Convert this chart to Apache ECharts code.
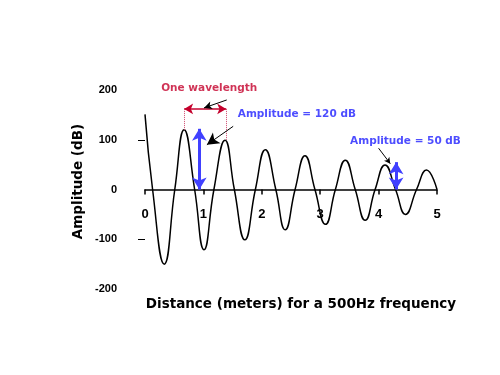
<!DOCTYPE html>
<html>
<head>
<meta charset="utf-8">
<script src="https://cdn.jsdelivr.net/npm/echarts@6/dist/echarts.min.js"></script>
<style>
html, body { margin: 0; background: #fff; }
#chart { width: 500px; height: 375px; }
</style>
</head>
<body>
<div id="chart"></div>
<script>
// wave: peaks, zero crossings, troughs
var waveX = [0, 0.13, 0.33, 0.51, 0.67, 0.85, 1.01, 1.18, 1.37, 1.53, 1.71, 1.89, 2.06, 2.24, 2.40, 2.57, 2.74, 2.91, 3.09, 3.26, 3.43, 3.60, 3.77, 3.94, 4.11, 4.29, 4.46, 4.65, 4.82, 5.0];
var waveY = [151, 0, -150, 0, 120, 0, -121, 0, 99, 0, -101, 0, 80, 0, -81, 0, 68, 0, -70, 0, 59, 0, -62, 0, 49, 0, -50, 0, 39, 0];
var xTicks = [0, 1, 2, 3, 4, 5];
var yLabels = [-200, -100, 0, 100, 200];
var yTicks = [100, -100];

// annotations (data coordinates)
var noteText = ['One wavelength', 'Amplitude = 120 dB', 'Amplitude = 50 dB'];
var noteAt = [[1.10, 204], [2.60, 152], [4.46, 97]];
var wavelengthSpan = [0.67, 1.39, 162];   // x from, x to, y
var wavelengthPeaks = [120, 100];
var ampArrows = [[0.93, 0, 122], [4.30, 0, 55]];  // x, y from, y to
var pointers = [[[1.40, 180], [1.01, 164]], [[1.51, 127], [1.06, 90]], [[4.00, 83], [4.20, 52]]];

var red = '#c4002c', blue = '#2020ff', ink = '#000';
var font = 'DejaVu Sans';

var chart = echarts.init(document.getElementById('chart'), null, { renderer: 'canvas' });

var lines = [];
lines.push([
    { coord: [wavelengthSpan[0], wavelengthSpan[2]], symbol: 'arrow', symbolSize: [8, 9] },
    { coord: [wavelengthSpan[1], wavelengthSpan[2]], symbol: 'arrow', symbolSize: [8, 9],
      lineStyle: { color: red, width: 1.5, type: 'solid' } }
]);
[0, 1].forEach(function(i) {
    lines.push([
        { coord: [wavelengthSpan[i], wavelengthSpan[2]], symbol: 'none' },
        { coord: [wavelengthSpan[i], wavelengthPeaks[i]], symbol: 'none',
          lineStyle: { color: '#d04a6e', width: 1, type: 'dotted' } }
    ]);
});
ampArrows.forEach(function(a) {
    lines.push([
        { coord: [a[0], a[1]], symbol: 'arrow', symbolSize: [11, 12] },
        { coord: [a[0], a[2]], symbol: 'arrow', symbolSize: [11, 12],
          lineStyle: { color: '#4040ff', width: 3, type: 'solid' } }
    ]);
});
pointers.forEach(function(p, i) {
    var s = i === 2 ? [5, 6] : (i === 1 ? [10, 12] : [6, 8]);
    lines.push([
        { coord: p[0], symbol: 'none' },
        { coord: p[1], symbol: 'arrow', symbolSize: s,
          lineStyle: { color: ink, width: 1, type: 'solid' } }
    ]);
});

var noteColor = [red, blue, blue];

chart.setOption({
    animation: false,
    grid: { left: 145, right: 63, top: 90, bottom: 86, outerBoundsMode: 'none', containLabel: false },
    xAxis: {
        type: 'value', min: 0, max: 5, interval: 1,
        position: 'bottom', offset: -99.5,
        name: 'Distance (meters) for a 500Hz frequency',
        nameLocation: 'middle', nameGap: 108, nameMoveOverlap: false,
        nameTextStyle: { color: ink, fontFamily: font, fontWeight: 'bold', fontSize: 13.5, padding: [0, 0, 0, 20] },
        axisLine: { onZero: false, lineStyle: { color: ink, width: 1.5 } },
        axisTick: { show: true, length: 5, lineStyle: { color: ink, width: 1.5 } },
        axisLabel: { color: ink, fontFamily: 'Liberation Sans', fontWeight: 'bold', fontSize: 13, margin: 18,
            customValues: xTicks },
        splitLine: { show: false }
    },
    yAxis: {
        type: 'value', min: -200, max: 200, interval: 100,
        name: 'Amplitude (dB)', nameLocation: 'middle', nameGap: 60, nameRotate: 90, nameMoveOverlap: false,
        nameTextStyle: { color: ink, fontFamily: font, fontWeight: 'bold', fontSize: 13.5, padding: [0, 0, 0, 16] },
        axisLine: { show: false },
        axisTick: { show: true, length: 7, customValues: yTicks, lineStyle: { color: ink, width: 1 } },
        axisLabel: { color: ink, fontFamily: 'Liberation Sans', fontWeight: 'bold', fontSize: 11, margin: 28,
            customValues: yLabels },
        splitLine: { show: false }
    },
    series: [{
        type: 'line',
        data: waveX.map(function(x, i) { return [x, waveY[i]]; }),
        smooth: 0.5,
        showSymbol: false,
        lineStyle: { color: ink, width: 1.5 },
        silent: true,
        markLine: {
            silent: true,
            label: { show: false },
            data: lines
        }
    }, {
        type: 'scatter',
        clip: false,
        symbolSize: 0,
        silent: true,
        data: noteText.map(function(t, i) {
            return {
                name: t, value: noteAt[i],
                label: { show: true, position: 'inside', formatter: '{b}', color: noteColor[i],
                    fontFamily: font, fontWeight: 'bold', fontSize: 10.5 }
            };
        })
    }]
});
</script>
</body>
</html>
